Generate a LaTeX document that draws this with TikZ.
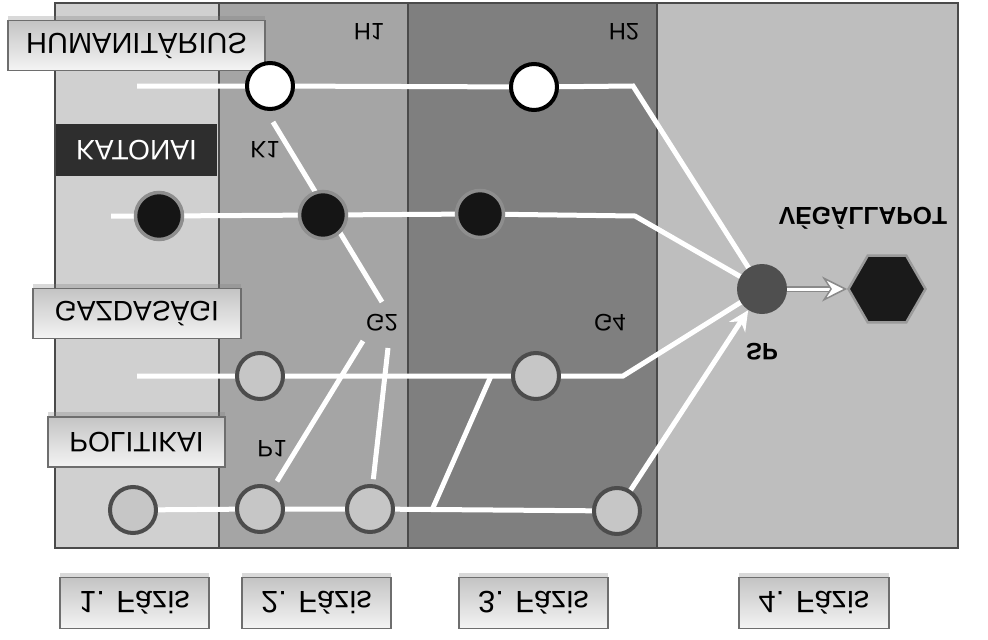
\documentclass[tikz,border=0pt]{standalone}
\usepackage{fontspec}
\setmainfont{Liberation Sans}
\usepackage{graphicx}
\usetikzlibrary{positioning,arrows.meta,shapes.geometric,shadows}
\newcommand{\flipv}[1]{\scalebox{1}[-1]{#1}}
\definecolor{phaseA}{HTML}{D0D0D0}
\definecolor{phaseB}{HTML}{A5A5A5}
\definecolor{phaseC}{HTML}{7F7F7F}
\definecolor{phaseD}{HTML}{BEBEBE}
\definecolor{frameln}{HTML}{4A4A4A}
\definecolor{boxline}{HTML}{6E6E6E}
\definecolor{boxtop}{HTML}{C4C4C4}
\definecolor{boxbot}{HTML}{F4F4F4}
\definecolor{katfill}{HTML}{2E2E2E}
\definecolor{kfill}{HTML}{151515}
\definecolor{khalo}{HTML}{8E8E8E}
\definecolor{gfill}{HTML}{C6C6C6}
\definecolor{gline}{HTML}{4C4C4C}
\definecolor{spfill}{HTML}{4F4F4F}
\definecolor{hexfill}{HTML}{1A1A1A}
\definecolor{hexedge}{HTML}{9A9A9A}
\definecolor{arrgray}{HTML}{8A8A8A}
\pgfdeclarelayer{regions}
\pgfdeclarelayer{links}
\pgfsetlayers{regions,links,main}

\begin{document}
\begin{tikzpicture}[x=0.2mm,y=-0.2mm,
  tagbox/.style={draw=boxline, line width=0.3mm, top color=boxtop, bottom color=boxbot,
    minimum width=#1, minimum height=10mm, inner sep=0pt,
    font=\fontsize{16}{18}\selectfont,
    drop shadow={shadow xshift=0mm, shadow yshift=1mm, opacity=0.3}},
  phasebox/.style={tagbox=#1, minimum height=10.2mm, font=\fontsize{17.5}{19}\selectfont},
  katbox/.style={fill=katfill, text=white, minimum width=#1, minimum height=10.4mm,
    inner sep=0pt, font=\fontsize{16}{18}\selectfont},
  hnode/.style={circle, fill=white, draw=black, line width=0.8mm, minimum size=9.2mm, inner sep=0pt},
  knode/.style={circle, fill=kfill, draw=khalo, line width=0.7mm, minimum size=9.4mm, inner sep=0pt},
  gnode/.style={circle, fill=gfill, draw=gline, line width=0.8mm, minimum size=9.2mm, inner sep=0pt},
  tag/.style={font=\fontsize{13.5}{15}\selectfont, inner sep=0pt},
  bigtag/.style={font=\bfseries\fontsize{13.5}{15}\selectfont, inner sep=0pt},
  wline/.style={draw=white, line width=1mm},
]
\useasboundingbox (0,0) rectangle (988,640);

% fázisok háttere
\begin{pgfonlayer}{regions}
\fill[phaseA] (55,3) rectangle (219,548);
\fill[phaseB] (219,3) rectangle (408,548);
\fill[phaseC] (408,3) rectangle (657,548);
\fill[phaseD] (657,3) rectangle (958,548);
\draw[frameln, line width=0.4mm] (219,3) -- (219,548) (408,3) -- (408,548) (657,3) -- (657,548);
\draw[frameln, line width=0.4mm] (55,3) rectangle (958,548);
\end{pgfonlayer}

% dimenziók címkéi
\node[tagbox=51.4mm, font=\fontsize{16.5}{18}\selectfont] (hum) at (136.5,45.5) {\flipv{HUMANITÁRIUS}};
\node[katbox=32.2mm] (kat) at (136.5,150) {\flipv{KATONAI}};
\node[tagbox=41.6mm] (gaz) at (137,313.5) {\flipv{GAZDASÁGI}};
\node[tagbox=35.4mm] (pol) at (136.5,442) {\flipv{POLITIKAI}};

% fázisok címkéi
\node[phasebox=29.8mm] (f1) at (134.5,603) {\flipv{1. Fázis}};
\node[phasebox=29.8mm] (f2) at (316.5,603) {\flipv{2. Fázis}};
\node[phasebox=29.8mm] (f3) at (533.5,603) {\flipv{3. Fázis}};
\node[phasebox=30mm] (f4) at (814,603) {\flipv{4. Fázis}};

% állapotok
\node[hnode] (h1) at (270,86) {};
\node[hnode] (h2) at (534,87) {};
\node[knode] (k0) at (159,216) {};
\node[knode] (k1) at (323,215) {};
\node[knode] (k3) at (480,214) {};
\node[gnode] (g1) at (260,376) {};
\node[gnode] (g4) at (536,376) {};
\node[gnode] (p0) at (133,510) {};
\node[gnode] (p1) at (260,509) {};
\node[gnode] (p2) at (370,509) {};
\node[gnode] (p4) at (617,511) {};
\node[circle, fill=spfill, minimum size=10mm, inner sep=0pt] (sp) at (762,289) {};
\node[regular polygon, regular polygon sides=6, minimum size=15.4mm, inner sep=0pt,
  fill=hexfill, draw=hexedge, line width=0.5mm] (veg) at (887,289) {};

% feliratok
\node[tag] (lh1) at (369,32) {\flipv{H1}};
\node[tag] (lh2) at (624,32) {\flipv{H2}};
\node[tag] (lk1) at (265,150) {\flipv{K1}};
\node[tag] (lg2) at (382,323) {\flipv{G2}};
\node[tag] (lg4) at (610,323) {\flipv{G4}};
\node[tag] (lp1) at (272,449) {\flipv{P1}};
\node[bigtag] (lsp) at (762,352) {\flipv{SP}};
\node[bigtag, font=\bfseries\fontsize{14}{16}\selectfont] (lveg) at (863,218) {\flipv{VÉGÁLLAPOT}};

% segédpontok
\coordinate (hs) at (137,86);  \coordinate (he) at (633,86);
\coordinate (ks) at (111,216); \coordinate (ke) at (635,216);
\coordinate (gs) at (137,376); \coordinate (ge) at (623,376);
\coordinate (k1a) at (273,122); \coordinate (k1b) at (382,302);
\coordinate (g2a) at (363,341); \coordinate (g2b) at (388,348);
\coordinate (pz) at (432,510);  \coordinate (gz) at (491,376);

% kapcsolatok
\begin{pgfonlayer}{links}
\draw[wline] (hs) -- (h1.center) -- (h2.center) -- (he) -- (sp.center);
\draw[wline] (ks) -- (k0.center) -- (k1.center) -- (k3.center) -- (ke) -- (sp.center);
\draw[wline] (gs) -- (g1.center) -- (g4.center) -- (ge) -- (sp.center);
\draw[wline] (p0.center) -- (p1.center) -- (p2.center) -- (p4.center);
\draw[wline] (k1a) -- (k1b);
\draw[wline, shorten >=1.5mm] (g2a) -- (p1);
\draw[wline, shorten >=1mm] (g2b) -- (p2);
\draw[wline] (pz) -- (gz);
\end{pgfonlayer}
\draw[wline, -{Stealth[length=4mm, width=3.8mm]}] (p4) -- (sp);
\draw[arrgray, double=white, double distance=0.6mm, line width=0.3mm,
  -{Stealth[length=5mm, width=5mm, fill=white]}] (sp) -- (veg);
\end{tikzpicture}
\end{document}
